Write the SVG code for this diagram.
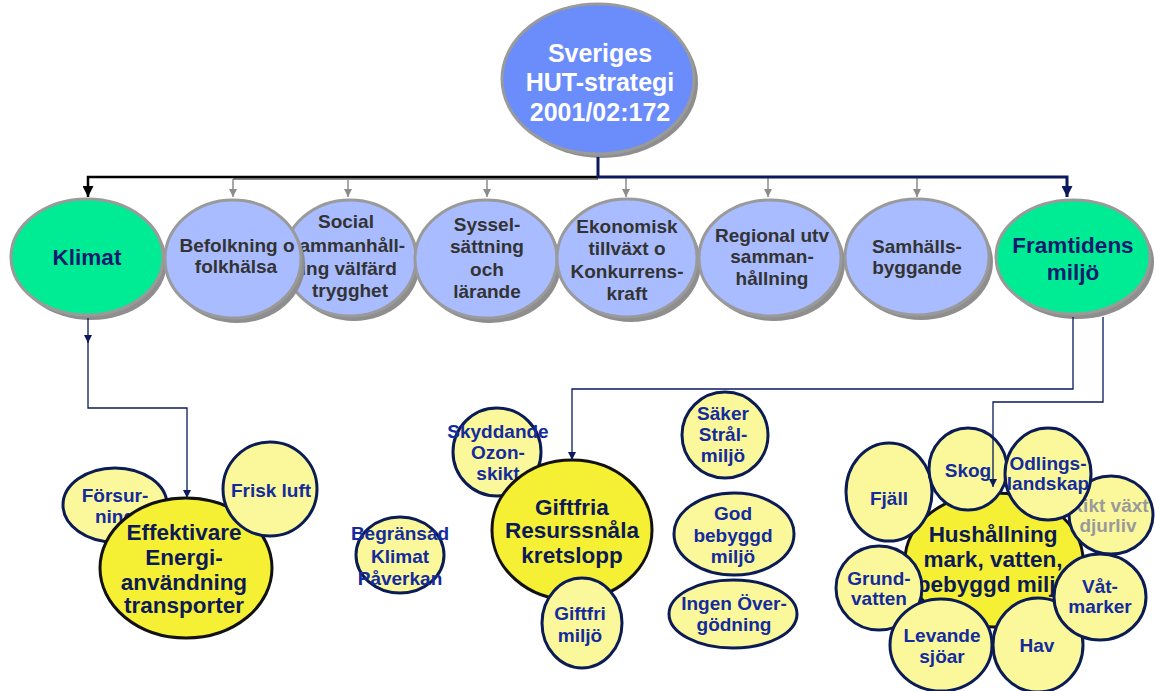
<svg xmlns="http://www.w3.org/2000/svg" width="1155" height="691" viewBox="0 0 1155 691">
<style>
.sh{fill:#8e8e8e}
.ov{stroke:#9a9a9a;stroke-width:3}
.blue{fill:#a9bcff}
.green{fill:#00ec94}
.t{font-family:"Liberation Sans",Arial,sans-serif;font-weight:bold;text-anchor:middle}
.rt{font-size:19px;fill:#333333}
.gt{font-size:22.5px;fill:#0d1b6e}
.sm{fill:#fbf89c;stroke:#0b1c55;stroke-width:3}
.bg{fill:#f6f034;stroke:#111111;stroke-width:3}
.st{font-size:19px;fill:#132b9c}
.bt{font-size:22.5px;fill:#0c1a55}
.c{fill:none}
</style>
<defs>
<marker id="mBlack" viewBox="0 0 10 10" refX="10" refY="5" markerWidth="12" markerHeight="11" markerUnits="userSpaceOnUse" orient="auto"><path d="M0,0 L10,5 L0,10 z" fill="#000"/></marker>
<marker id="mNavyB" viewBox="0 0 10 10" refX="10" refY="5" markerWidth="12" markerHeight="11" markerUnits="userSpaceOnUse" orient="auto"><path d="M0,0 L10,5 L0,10 z" fill="#0a1a5c"/></marker>
<marker id="mGray" viewBox="0 0 10 10" refX="10" refY="5" markerWidth="9" markerHeight="8" markerUnits="userSpaceOnUse" orient="auto"><path d="M0,0 L10,5 L0,10 z" fill="#8c8c8c"/></marker>
<marker id="mNavy" viewBox="0 0 10 10" refX="10" refY="5" markerWidth="10" markerHeight="8" markerUnits="userSpaceOnUse" orient="auto"><path d="M0,0 L10,5 L0,10 z" fill="#0a1a5c"/></marker>
</defs>

<g id="top">
<ellipse class="sh" cx="602" cy="83" rx="96" ry="75"/>
<ellipse cx="598" cy="79" rx="96" ry="75" fill="#6b8cfb" stroke="#9a9a9a" stroke-width="3"/>
<text class="t" font-size="25" fill="#fff" x="600" y="62">Sveriges</text>
<text class="t" font-size="25" fill="#fff" x="600" y="91">HUT-strategi</text>
<text class="t" font-size="25" fill="#fff" x="600" y="121">2001/02:172</text>
</g>

<g id="klimat">
<ellipse class="sh" cx="91" cy="262" rx="76" ry="58"/>
<ellipse class="green ov" cx="87" cy="257" rx="76" ry="58"/>
<text class="t gt" x="87" y="265">Klimat</text>
</g>
<g id="social">
<ellipse class="sh" cx="354" cy="263" rx="66" ry="58"/>
<ellipse class="blue ov" cx="350" cy="258" rx="66" ry="58"/>
<text class="t rt" x="346" y="228">Social</text>
<text class="t rt" x="346" y="252">Sammanhåll-</text>
<text class="t rt" x="343" y="275">ning välfärd</text>
<text class="t rt" x="350" y="297">trygghet</text>
</g>
<g id="befolkning">
<ellipse class="sh" cx="237" cy="264" rx="68" ry="59"/>
<ellipse class="blue ov" cx="233" cy="259" rx="68" ry="59"/>
<text class="t rt" x="237" y="252">Befolkning o</text>
<text class="t rt" x="236" y="273">folkhälsa</text>
</g>
<g id="syssel">
<ellipse class="sh" cx="490" cy="264" rx="71" ry="59"/>
<ellipse class="blue ov" cx="486" cy="259" rx="71" ry="59"/>
<text class="t rt" x="487" y="231">Syssel-</text>
<text class="t rt" x="487" y="253">sättning</text>
<text class="t rt" x="487" y="276">och</text>
<text class="t rt" x="487" y="298">lärande</text>
</g>
<g id="ekonomisk">
<ellipse class="sh" cx="631" cy="263" rx="70" ry="59"/>
<ellipse class="blue ov" cx="627" cy="258" rx="70" ry="59"/>
<text class="t rt" x="627" y="233">Ekonomisk</text>
<text class="t rt" x="627" y="255">tillväxt o</text>
<text class="t rt" x="627" y="278">Konkurrens-</text>
<text class="t rt" x="627" y="300">kraft</text>
</g>
<g id="regional">
<ellipse class="sh" cx="774" cy="263" rx="71" ry="58"/>
<ellipse class="blue ov" cx="770" cy="258" rx="71" ry="58"/>
<text class="t rt" x="772" y="242">Regional utv</text>
<text class="t rt" x="772" y="263">samman-</text>
<text class="t rt" x="772" y="285">hållning</text>
</g>
<g id="samhalls">
<ellipse class="sh" cx="921" cy="262" rx="72" ry="58"/>
<ellipse class="blue ov" cx="917" cy="257" rx="72" ry="58"/>
<text class="t rt" x="917" y="253">Samhälls-</text>
<text class="t rt" x="917" y="274">byggande</text>
</g>
<g id="framtidens">
<ellipse class="sh" cx="1077" cy="262" rx="77" ry="57"/>
<ellipse class="green ov" cx="1073" cy="257" rx="77" ry="57"/>
<text class="t gt" x="1073" y="253">Framtidens</text>
<text class="t gt" x="1073" y="280">miljö</text>
</g>

<g id="forsurning">
<ellipse class="sm" cx="115" cy="505" rx="52" ry="37"/>
<text class="t st" x="115" y="502">Försur-</text>
<text class="t st" x="115" y="523">ning</text>
</g>
<g id="effektivare">
<ellipse class="bg" cx="186" cy="568" rx="86" ry="70"/>
<text class="t bt" x="184" y="540">Effektivare</text>
<text class="t bt" x="184" y="565">Energi-</text>
<text class="t bt" x="184" y="590">användning</text>
<text class="t bt" x="184" y="613">transporter</text>
</g>
<g id="frisk">
<ellipse class="sm" cx="270" cy="489" rx="47" ry="47"/>
<text class="t st" x="271" y="497">Frisk luft</text>
</g>

<g id="begransad">
<ellipse class="sm" cx="400" cy="555" rx="44" ry="38"/>
<text class="t st" x="400" y="540">Begränsad</text>
<text class="t st" x="400" y="563">Klimat</text>
<text class="t st" x="400" y="585">Påverkan</text>
</g>
<g id="skyddande">
<ellipse class="sm" cx="497" cy="452" rx="44" ry="44"/>
<text class="t st" x="498" y="438">Skyddande</text>
<text class="t st" x="498" y="459">Ozon-</text>
<text class="t st" x="498" y="480">skikt</text>
</g>
<g id="giftfria">
<ellipse class="bg" cx="572" cy="530" rx="80" ry="70"/>
<text class="t bt" x="572" y="515">Giftfria</text>
<text class="t bt" x="572" y="538">Resurssnåla</text>
<text class="t bt" x="572" y="563">kretslopp</text>
</g>
<g id="giftfri">
<ellipse class="sm" cx="582" cy="623" rx="40" ry="45"/>
<text class="t st" x="580" y="620">Giftfri</text>
<text class="t st" x="580" y="642">miljö</text>
</g>
<g id="saker">
<ellipse class="sm" cx="725" cy="435" rx="43" ry="43"/>
<text class="t st" x="723" y="420">Säker</text>
<text class="t st" x="723" y="441">Strål-</text>
<text class="t st" x="723" y="462">miljö</text>
</g>
<g id="god">
<ellipse class="sm" cx="734" cy="534" rx="60" ry="41"/>
<text class="t st" x="733" y="520">God</text>
<text class="t st" x="733" y="542">bebyggd</text>
<text class="t st" x="733" y="563">miljö</text>
</g>
<g id="ingen">
<ellipse class="sm" cx="733" cy="614" rx="64" ry="34"/>
<text class="t st" x="734" y="610">Ingen Över-</text>
<text class="t st" x="734" y="631">gödning</text>
</g>

<g id="hushallning">
<ellipse class="bg" cx="994" cy="560" rx="89" ry="67"/>
<text class="t bt" x="993" y="542">Hushållning</text>
<text class="t bt" x="993" y="567">mark, vatten,</text>
<text class="t bt" x="993" y="592">bebyggd miljö</text>
</g>
<g id="fjall">
<ellipse class="sm" cx="889" cy="492" rx="43" ry="49"/>
<text class="t st" x="889" y="505">Fjäll</text>
</g>
<g id="grundvatten">
<ellipse class="sm" cx="879" cy="588" rx="43" ry="42"/>
<text class="t st" x="879" y="585">Grund-</text>
<text class="t st" x="879" y="605">vatten</text>
</g>
<g id="levande">
<ellipse class="sm" cx="941" cy="645" rx="51" ry="46"/>
<text class="t st" x="942" y="642">Levande</text>
<text class="t st" x="942" y="663">sjöar</text>
</g>
<g id="hav">
<ellipse class="sm" cx="1038" cy="645" rx="45" ry="47"/>
<text class="t st" x="1037" y="652">Hav</text>
</g>
<g id="vatmarker">
<ellipse class="sm" cx="1100" cy="597" rx="46" ry="43"/>
<text class="t st" x="1100" y="593">Våt-</text>
<text class="t st" x="1100" y="613">marker</text>
</g>
<g id="rikt">
<ellipse class="sm" cx="1111" cy="515" rx="42" ry="39"/>
<text class="t" font-size="19" fill="#9a9a9a" x="1109" y="512">Rikt växt</text>
<text class="t" font-size="19" fill="#9a9a9a" x="1108" y="532">djurliv</text>
</g>
<g id="skog">
<ellipse class="sm" cx="968" cy="469" rx="39" ry="41"/>
<text class="t st" x="968" y="477">Skog</text>
</g>
<g id="odlings">
<ellipse class="sm" cx="1048" cy="474" rx="43" ry="46"/>
<text class="t st" x="1048" y="470">Odlings-</text>
<text class="t st" x="1048" y="490">landskap</text>
</g>

<g id="connectors">
<path class="c" d="M233,179 H598" stroke="#8c8c8c" stroke-width="2"/>
<path class="c" d="M233,179 V197" stroke="#8c8c8c" stroke-width="1.5" marker-end="url(#mGray)"/>
<path class="c" d="M348,179 V197" stroke="#8c8c8c" stroke-width="1.5" marker-end="url(#mGray)"/>
<path class="c" d="M487,179 V197" stroke="#8c8c8c" stroke-width="1.5" marker-end="url(#mGray)"/>
<path class="c" d="M626,178 V197" stroke="#8c8c8c" stroke-width="1.5" marker-end="url(#mGray)"/>
<path class="c" d="M768,178 V197" stroke="#8c8c8c" stroke-width="1.5" marker-end="url(#mGray)"/>
<path class="c" d="M917,178 V197" stroke="#8c8c8c" stroke-width="1.5" marker-end="url(#mGray)"/>
<path class="c" d="M598,177 H88 V197" stroke="#000" stroke-width="2.5" marker-end="url(#mBlack)"/>
<path class="c" d="M598,157 V177 H1067 V197" stroke="#0a1a5c" stroke-width="3" marker-end="url(#mNavyB)"/>
<path class="c" d="M88,318 V343" stroke="#0a1a5c" stroke-width="1.3" marker-end="url(#mNavy)"/>
<path class="c" d="M88,340 V408 H187 V498" stroke="#0a1a5c" stroke-width="1.3" marker-end="url(#mNavy)"/>
<path class="c" d="M1073,317 V389 H572 V460" stroke="#0a1a5c" stroke-width="1.3" marker-end="url(#mNavy)"/>
<path class="c" d="M1103,317 V402 H993 V487" stroke="#0a1a5c" stroke-width="1.3" marker-end="url(#mNavy)"/>
</g>
</svg>
